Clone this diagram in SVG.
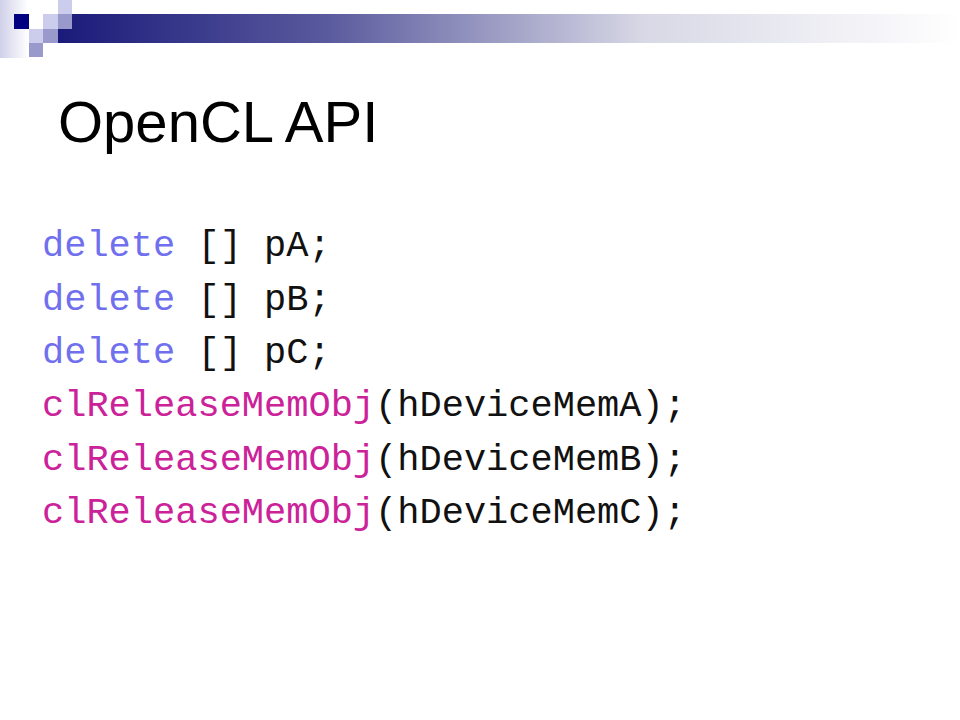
<svg xmlns="http://www.w3.org/2000/svg" width="960" height="720" viewBox="0 0 960 720">
<defs>
<linearGradient id="bar" x1="0" y1="0" x2="1" y2="0">
<stop offset="0" stop-color="#1a1a7a"/>
<stop offset="0.3" stop-color="#5a5a9e"/>
<stop offset="0.65" stop-color="#d8d8e6"/>
<stop offset="1" stop-color="#ffffff"/>
</linearGradient>
<linearGradient id="side" x1="0" y1="0" x2="1" y2="0">
<stop offset="0" stop-color="#d0d0ea"/>
<stop offset="1" stop-color="#ffffff"/>
</linearGradient>
<style>
.code{font-family:"Liberation Mono","Courier New",monospace;font-size:37px}
.kw{fill:#7070ee}
.fn{fill:#cc2299}
.tx{fill:#111111}
</style>
</defs>
<rect width="960" height="720" fill="#ffffff"/>
<g id="decoration">
<rect x="0" y="0" width="28" height="58" fill="url(#side)"/>
<rect x="58" y="14" width="902" height="29" fill="url(#bar)"/>
<rect x="14" y="14" width="15" height="15" fill="#000080"/>
<rect x="58" y="0" width="14" height="14" fill="#ccccec"/>
<rect x="43" y="14" width="15" height="15" fill="#ccccec"/>
<rect x="58" y="14" width="14" height="15" fill="#9999cc"/>
<rect x="29" y="29" width="14" height="14" fill="#ccccec"/>
<rect x="43" y="29" width="15" height="14" fill="#9999cc"/>
<rect x="29" y="43" width="14" height="14" fill="#9999cc"/>
</g>
<g id="title">
<text x="58" y="142" font-family="'Liberation Sans', Arial, sans-serif" font-size="58" fill="#000000">OpenCL API</text>
</g>
<g id="code" class="code">
<text x="42" y="256"><tspan class="kw">delete</tspan><tspan class="tx"> [] pA;</tspan></text>
<text x="42" y="309.5"><tspan class="kw">delete</tspan><tspan class="tx"> [] pB;</tspan></text>
<text x="42" y="363"><tspan class="kw">delete</tspan><tspan class="tx"> [] pC;</tspan></text>
<text x="42" y="416"><tspan class="fn">clReleaseMemObj</tspan><tspan class="tx">(hDeviceMemA);</tspan></text>
<text x="42" y="470"><tspan class="fn">clReleaseMemObj</tspan><tspan class="tx">(hDeviceMemB);</tspan></text>
<text x="42" y="523"><tspan class="fn">clReleaseMemObj</tspan><tspan class="tx">(hDeviceMemC);</tspan></text>
</g>
</svg>
